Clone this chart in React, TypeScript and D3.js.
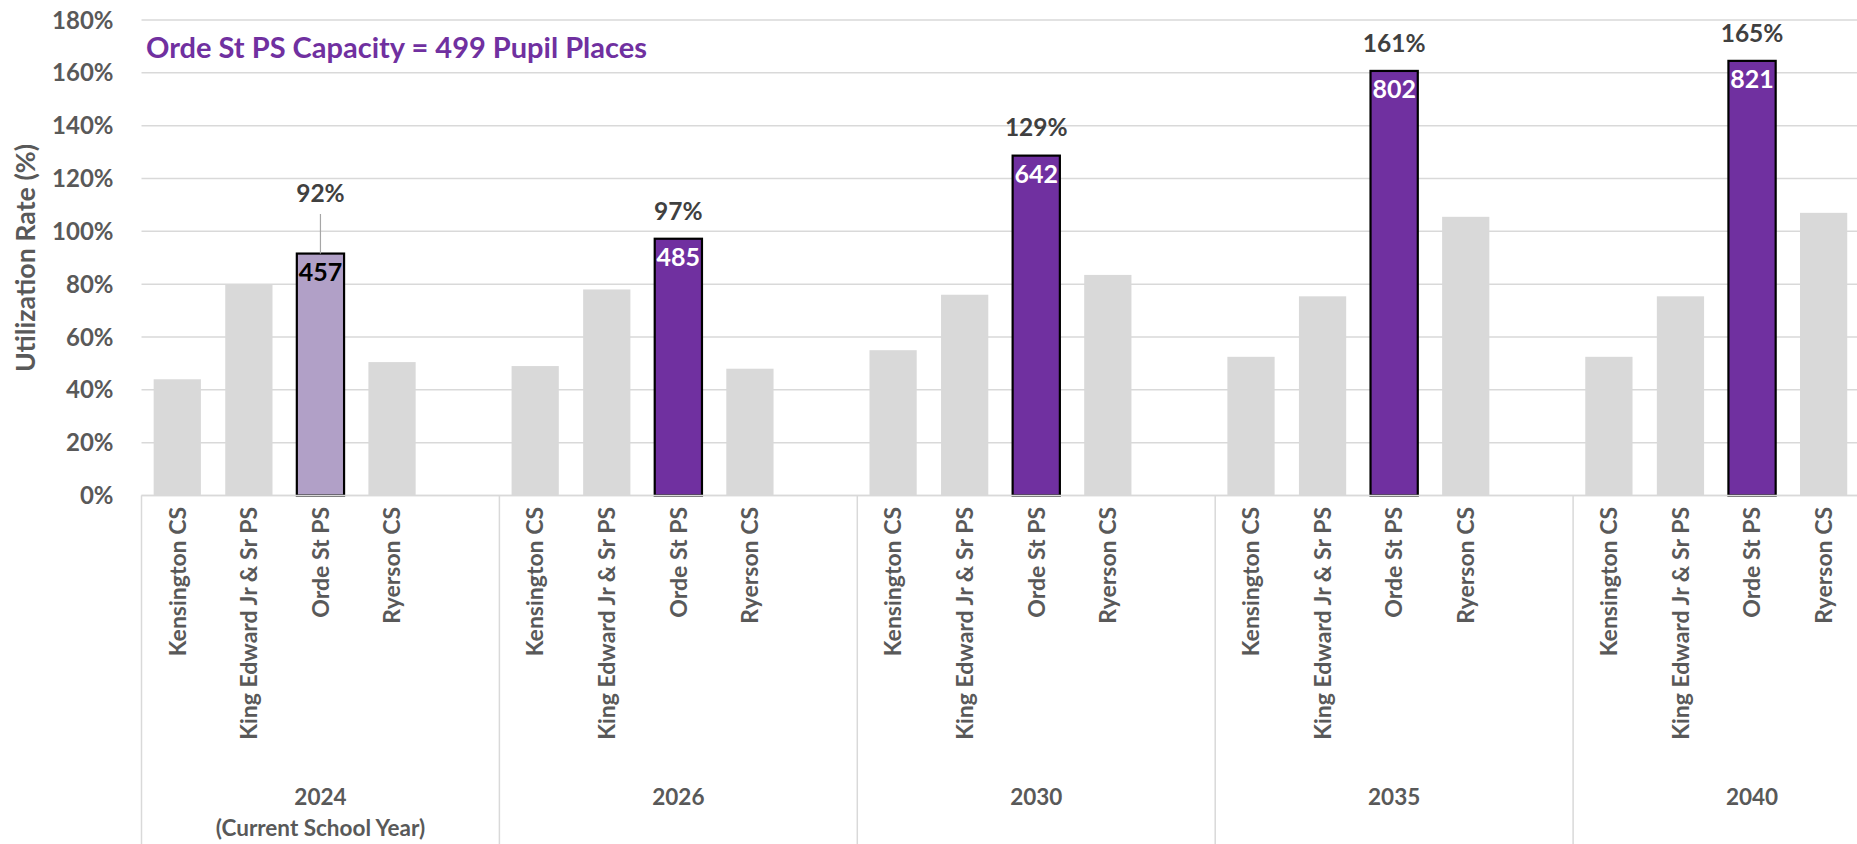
import React from 'react';
import * as d3 from 'd3';

// chart values
const years = ['2024', '2026', '2030', '2035', '2040'];
const yearNotes = ['(Current School Year)', '', '', '', ''];
const schools = ['Kensington CS', 'King Edward Jr & Sr PS', 'Orde St PS', 'Ryerson CS'];
const kensington = [0.44, 0.49, 0.55, 0.525, 0.525];
const kingEdward = [0.80, 0.78, 0.76, 0.754, 0.754];
const ordeEnrolment = [457, 485, 642, 802, 821];
const ordeCapacity = 499;
const ryerson = [0.505, 0.48, 0.835, 1.055, 1.07];
const yTicks = [0, 0.2, 0.4, 0.6, 0.8, 1.0, 1.2, 1.4, 1.6, 1.8];

const W = 1857;
const H = 844;
const FONT = 'Lato, "Open Sans", sans-serif';
const GRID = '#d9d9d9';
const AXIS_TEXT = '#595959';
const LABEL_TEXT = '#404040';
const PURPLE = '#7030a0';
const LIGHT_PURPLE = '#b1a0c7';

const App = () => {
  const plotLeft = 141.5;
  const groupW = 357.9;
  const plotRight = plotLeft + groupW * years.length; // runs past the window, like the source
  const y = d3.scaleLinear().domain([0, 1.8]).range([495.5, 20]);

  const xGroup = d3.scaleBand().domain(years).range([plotLeft, plotRight]);
  // 4 schools plus one empty slot per group
  const xSlot = d3.scaleBand()
    .domain([...schools, ''])
    .range([0, groupW])
    .paddingInner(0.34)
    .paddingOuter(0.17);

  const rows = years.flatMap((yr, i) => {
    const vals = [kensington[i], kingEdward[i], ordeEnrolment[i] / ordeCapacity, ryerson[i]];
    return schools.map((s, j) => ({
      year: yr,
      yi: i,
      school: s,
      value: vals[j],
      x: xGroup(yr)! + xSlot(s)!,
      isOrde: s === 'Orde St PS',
    }));
  });

  const bw = xSlot.bandwidth();
  const y0 = y(0);

  return (
    <div style={{ position: 'absolute', left: 0, top: 0, width: W, height: H, overflow: 'hidden', background: '#fff' }}>
      <svg width={W} height={H} style={{ display: 'block', fontFamily: FONT }}>
        {/* gridlines */}
        {yTicks.map(t => (
          <line key={t} x1={plotLeft} x2={plotRight} y1={y(t)} y2={y(t)} stroke={GRID} strokeWidth={1.5} />
        ))}

        {/* y tick labels */}
        {yTicks.map(t => (
          <text key={'t' + t} x={113.5} y={y(t)} dy="0.36em" textAnchor="end" fontSize={24} fontWeight={700} fill={AXIS_TEXT}>
            {d3.format('.0%')(t)}
          </text>
        ))}

        {/* y axis title */}
        <text transform={`translate(25,${258}) rotate(-90)`} dy="0.36em" textAnchor="middle" fontSize={26.8} fontWeight={700} fill={AXIS_TEXT}>
          Utilization Rate (%)
        </text>

        {/* chart title */}
        <text x={146} y={48} dy="0.36em" fontSize={29} fontWeight={700} fill={PURPLE}>
          Orde St PS Capacity = {ordeCapacity} Pupil Places
        </text>

        {/* bars */}
        {rows.map(d => (
          <rect
            key={d.year + d.school}
            x={d.x}
            y={y(d.value)}
            width={bw}
            height={y0 - y(d.value)}
            fill={d.isOrde ? (d.yi === 0 ? LIGHT_PURPLE : PURPLE) : GRID}
            stroke={d.isOrde ? '#000' : 'none'}
            strokeWidth={2.2}
          />
        ))}

        {/* category axis */}
        <line x1={plotLeft} x2={plotRight} y1={y0} y2={y0} stroke={GRID} strokeWidth={1.5} />
        {years.map(yr => (
          <line key={'sep' + yr} x1={xGroup(yr)!} x2={xGroup(yr)!} y1={y0} y2={H} stroke={GRID} strokeWidth={1.5} />
        ))}

        {/* school labels */}
        {rows.map(d => (
          <text
            key={'lbl' + d.year + d.school}
            transform={`translate(${d.x + bw / 2},${507}) rotate(-90)`}
            dy="0.36em"
            textAnchor="end"
            fontSize={23}
            fontWeight={700}
            fill={AXIS_TEXT}
          >
            {d.school}
          </text>
        ))}

        {/* year labels */}
        {years.map((yr, i) => (
          <g key={'yr' + yr} fontSize={22.5} fontWeight={700} fill={AXIS_TEXT} textAnchor="middle">
            <text x={xGroup(yr)! + groupW / 2} y={797} dy="0.36em">{yr}</text>
            {yearNotes[i] && (
              <text x={xGroup(yr)! + groupW / 2} y={828} dy="0.36em">{yearNotes[i]}</text>
            )}
          </g>
        ))}

        {/* Orde enrolment + utilization labels */}
        {rows.filter(d => d.isOrde).map(d => {
          const cx = d.x + bw / 2;
          const top = y(d.value);
          const lifted = d.yi === 0; // first label was dragged up with a leader line
          const labelY = lifted ? 193 : top - 28;
          return (
            <g key={'v' + d.year}>
              {lifted && <line x1={cx} x2={cx} y1={214} y2={top} stroke="#a6a6a6" strokeWidth={1.2} />}
              <text x={cx} y={labelY} dy="0.36em" textAnchor="middle" fontSize={24.5} fontWeight={700} fill={LABEL_TEXT}>
                {Math.round(d.value * 100)}%
              </text>
              <text x={cx} y={top + 18} dy="0.36em" textAnchor="middle" fontSize={25} fontWeight={700} fill={d.yi === 0 ? '#000' : '#fff'}>
                {ordeEnrolment[d.yi]}
              </text>
            </g>
          );
        })}
      </svg>
    </div>
  );
};

export default App;
